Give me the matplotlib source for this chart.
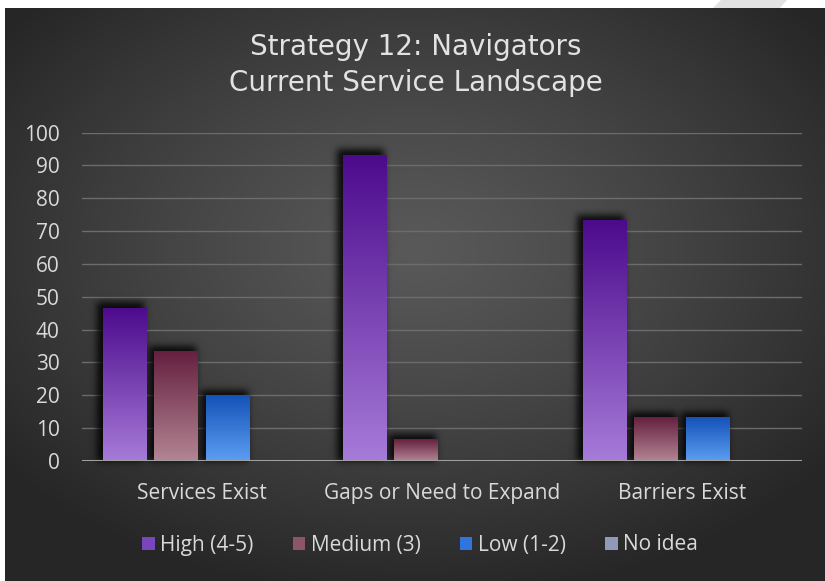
import numpy as np
import matplotlib
import matplotlib.pyplot as plt
from matplotlib.colors import LinearSegmentedColormap, to_rgb
from matplotlib.patches import Patch, Polygon

# ---- data ----
categories = ["Services Exist", "Gaps or Need to Expand", "Barriers Exist"]
series_names = ["High (4-5)", "Medium (3)", "Low (1-2)", "No idea"]
high = [46.7, 93.3, 73.3]
medium = [33.3, 6.7, 13.3]
low = [20.0, 0.0, 13.3]
no_idea = [0.0, 0.0, 0.0]
y_ticks = [0, 10, 20, 30, 40, 50, 60, 70, 80, 90, 100]
title_text = "Strategy 12: Navigators\nCurrent Service Landscape"

series_values = [high, medium, low, no_idea]
# (top colour, bottom colour) of each series' vertical gradient
series_grad = [("#4c0a8c", "#a67bd9"),
               ("#65203f", "#b38593"),
               ("#1452b8", "#5c9ef2"),
               ("#6f7fa0", "#a4b2cc")]
legend_colors = ["#7a45bd", "#8e5468", "#2f76dc", "#8d9bb8"]

W, H = 825, 581
FONT = "Open Sans"
TXT = "#d9d9d9"

fig = plt.figure(figsize=(W / 100, H / 100), dpi=100)
fig.patch.set_facecolor("white")

# ---- dark radial-gradient panel ----
bg = fig.add_axes([5 / W, 0, 820 / W, 573 / H])
bg.axis("off")
yy, xx = np.mgrid[0:1:400j, 0:1:560j]
r = np.sqrt(((xx - 0.5) / 0.64) ** 2 + ((yy - 0.42) / 0.62) ** 2)
t = np.clip(r, 0, 1) ** 1.2
c_in = np.array(to_rgb("#595959"))
c_out = np.array(to_rgb("#262626"))
img = c_in[None, None, :] * (1 - t[..., None]) + c_out[None, None, :] * t[..., None]
bg.imshow(img, extent=(0, 1, 0, 1), origin="upper", aspect="auto")
bg.set_xlim(0, 1)
bg.set_ylim(0, 1)

# slide decoration strip at the top edge
fig.add_artist(Polygon([(721 / W, 1), (787 / W, 1), (780 / W, 1 - 8 / H), (713 / W, 1 - 8 / H)],
                       closed=True, transform=fig.transFigure, facecolor="#e2e2e2",
                       edgecolor="none"))

# ---- plot area ----
ax = fig.add_axes([82 / W, 120.3 / H, 720 / W, 328 / H])
ax.set_facecolor("none")
ax.set_xlim(-0.5, len(categories) - 0.5)
ax.set_ylim(0, 100)

slot = 0.216
width = 0.18
x = np.arange(len(categories))

ax.set_yticks(y_ticks)
ax.yaxis.grid(True, color="#6c6c6c", linewidth=1.0, zorder=0)
ax.set_axisbelow(True)
for s in ax.spines.values():
    s.set_visible(False)
ax.axhline(0, color="#a0a0a0", linewidth=2.2, zorder=6)

all_bars = []
for i, (vals, (ctop, cbot)) in enumerate(zip(series_values, series_grad)):
    offs = (i - (len(series_values) - 1) / 2) * slot
    bars = ax.bar(x + offs, vals, width=width, color=cbot, edgecolor="none",
                  zorder=4, label=series_names[i])
    cm = LinearSegmentedColormap.from_list(f"g{i}", [(0.0, cbot), (1.0, ctop)])
    for p in bars.patches:
        h = p.get_height()
        if h <= 0:
            continue
        x0 = p.get_x()
        im = ax.imshow(np.linspace(0, 1, 256).reshape(-1, 1), cmap=cm,
                       extent=(x0, x0 + p.get_width(), 0, h), origin="lower",
                       aspect="auto", zorder=5)
        im.set_clip_path(p)
        all_bars.append(p)

# soft dark shadow behind the bars (blurred mask in axes pixel space)
fig.canvas.draw()
bb = ax.get_window_extent()
pw, ph = int(round(bb.width)), int(round(bb.height))
pad = 20
mask = np.zeros((ph + 2 * pad, pw + 2 * pad))
to_px = ax.transData
for p in all_bars:
    (ax0, ay0) = to_px.transform((p.get_x(), 0))
    (ax1, ay1) = to_px.transform((p.get_x() + p.get_width(), p.get_height()))
    c0 = int(ax0 - bb.x0) + pad - 5
    c1 = int(ax1 - bb.x0) + pad - 1
    r1 = ph - int(ay0 - bb.y0) + pad
    r0 = ph - int(ay1 - bb.y0) + pad - 6
    mask[max(r0, 0):r1, max(c0, 0):c1] = 1.0
k = np.exp(-0.5 * (np.arange(-10, 11) / 3.5) ** 2)
k /= k.sum()
mask = np.apply_along_axis(lambda v: np.convolve(v, k, mode="same"), 0, mask)
mask = np.apply_along_axis(lambda v: np.convolve(v, k, mode="same"), 1, mask)
shadow = np.zeros(mask.shape + (4,))
shadow[..., 3] = np.clip(mask * 0.85, 0, 1)
sx = (ax.get_xlim()[1] - ax.get_xlim()[0]) / pw
sy = (ax.get_ylim()[1] - ax.get_ylim()[0]) / ph
ax.imshow(shadow, extent=(ax.get_xlim()[0] - pad * sx, ax.get_xlim()[1] + pad * sx,
                          -pad * sy, 100 + pad * sy),
          origin="upper", aspect="auto", zorder=2, clip_on=False)
ax.set_xlim(-0.5, len(categories) - 0.5)
ax.set_ylim(0, 100)

# ---- ticks ----
ax.set_xticks(x)
ax.set_xticklabels(categories)
ax.tick_params(axis="both", length=0, colors=TXT, labelsize=15)
ax.tick_params(axis="y", pad=16)
ax.tick_params(axis="x", pad=16)
for lab in ax.get_xticklabels() + ax.get_yticklabels():
    lab.set_fontfamily(FONT)
    lab.set_color(TXT)

# ---- title ----
fig.text(416 / W, 1 - 47 / H, title_text.split("\n")[0], ha="center", va="center",
         fontsize=20, color="#e2e2e2", family="DejaVu Sans")
fig.text(416 / W, 1 - 83 / H, title_text.split("\n")[1], ha="center", va="center",
         fontsize=20, color="#e2e2e2", family="DejaVu Sans")

# ---- legend ----
handles = [Patch(facecolor=c, edgecolor="none") for c in legend_colors]
leg = fig.legend(handles, series_names, loc="center", bbox_to_anchor=(420 / W, 1 - 545 / H),
                 ncol=4, frameon=False, handlelength=0.6, handleheight=0.6,
                 handletextpad=0.25, columnspacing=1.9,
                 prop={"family": FONT, "size": 15})
for tx in leg.get_texts():
    tx.set_color(TXT)

fig.savefig("out.png", dpi=100, facecolor=fig.get_facecolor())
